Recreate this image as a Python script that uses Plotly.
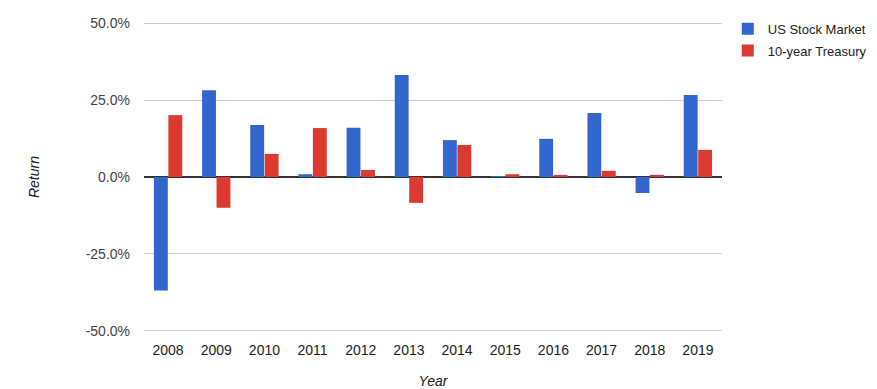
import plotly.graph_objects as go

years = ["2008", "2009", "2010", "2011", "2012", "2013", "2014", "2015", "2016", "2017", "2018", "2019"]
stock = [-36.9, 28.2, 16.9, 0.9, 16.0, 33.1, 12.0, 0.3, 12.4, 20.8, -5.2, 26.6]
treasury = [20.1, -10.0, 7.5, 15.9, 2.3, -8.4, 10.4, 0.9, 0.7, 2.0, 0.7, 8.8]
y_ticks = [-50, -25, 0, 25, 50]
y_tick_labels = ["-50.0%", "-25.0%", "0.0%", "25.0%", "50.0%"]

fig = go.Figure()
fig.add_trace(go.Bar(x=years, y=stock, name="US Stock Market", legendgroup="a",
                     marker=dict(color="#3366cc", line=dict(width=0))))
fig.add_trace(go.Bar(x=years, y=treasury, name="10-year Treasury", legendgroup="b",
                     marker=dict(color="#dc3a30", line=dict(width=0))))

# page body has an 8px default margin, so the figure is sized/offset to compensate
fig.update_layout(
    width=869, height=381,
    margin=dict(l=136, r=155, t=12, b=55, autoexpand=False),
    paper_bgcolor="white", plot_bgcolor="white",
    font=dict(family="Liberation Sans, Arial, sans-serif", size=14, color="#444444"),
    barmode="group", bargap=0.4, bargroupgap=0.04,
    showlegend=True,
    legend=dict(x=1.01, y=1.02, xanchor="left", yanchor="top",
                font=dict(size=13, color="#222222"), tracegroupgap=2, traceorder="grouped",
                itemwidth=30, bgcolor="rgba(0,0,0,0)"),
    xaxis=dict(showgrid=False, showline=False, ticks="", automargin=False, ticklabelstandoff=6,
               tickfont=dict(color="#222222"),
               title=dict(text="Year", font=dict(size=14, color="#222222", style="italic"), standoff=47)),
    yaxis=dict(range=[-51, 51], tickvals=y_ticks, ticktext=y_tick_labels, showgrid=True, automargin=False,
               ticklabelstandoff=13,
               gridcolor="#cccccc", gridwidth=1, zeroline=True, zerolinecolor="#333333", zerolinewidth=1.5,
               ticks="", ticklen=0, tickfont=dict(color="#444444"),
               title=dict(text="Return", font=dict(size=14, color="#222222", style="italic"), standoff=42)),
)

fig.write_html("out.html")
